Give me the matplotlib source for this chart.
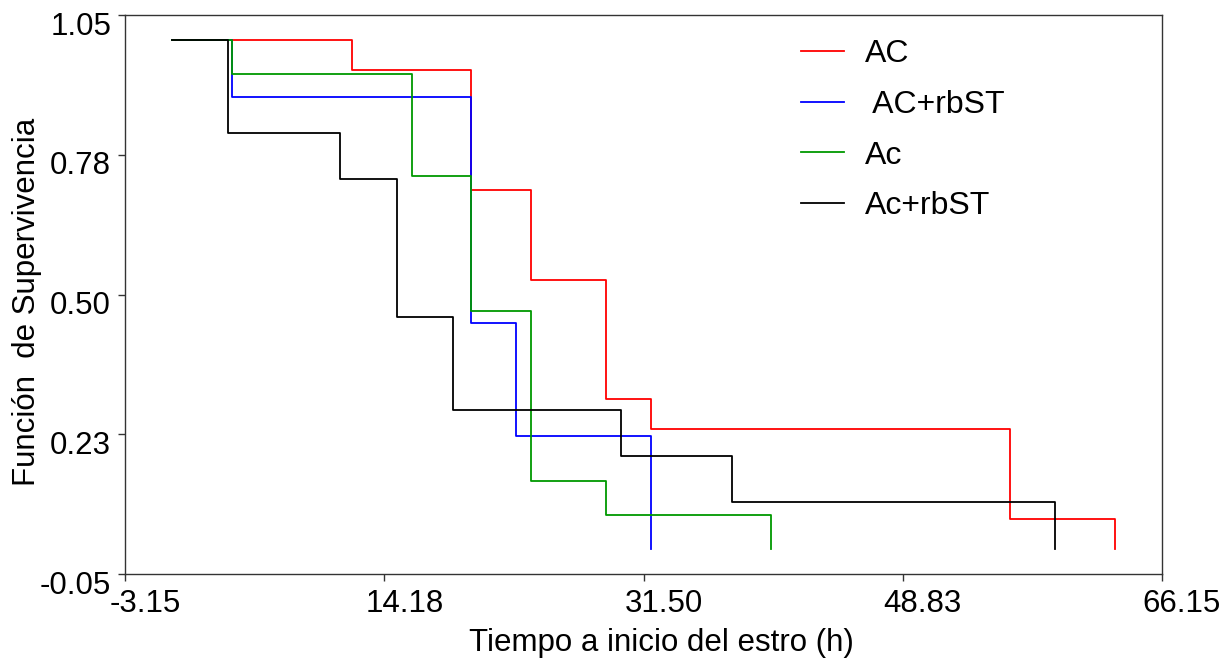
import numpy as np
import matplotlib
matplotlib.use('Agg')
import matplotlib.pyplot as plt
from matplotlib.transforms import ScaledTranslation

plt.rcParams['font.family'] = ['Liberation Sans', 'DejaVu Sans']

# Kaplan-Meier curves (time in h, survival)
t_AC = [0, 12, 20, 24, 29, 32, 56, 63]
s_AC = [1.0, 0.941, 0.706, 0.529, 0.294, 0.235, 0.059, 0.0]

t_ACrb = [0, 4, 20, 23, 32]
s_ACrb = [1.0, 0.889, 0.444, 0.222, 0.0]

t_Ac = [0, 4, 16, 20, 24, 29, 40]
s_Ac = [1.0, 0.933, 0.733, 0.467, 0.133, 0.067, 0.0]

t_Acrb = [0, 3.7, 11.2, 15, 18.8, 30, 37.4, 59]
s_Acrb = [1.0, 0.818, 0.727, 0.455, 0.273, 0.182, 0.091, 0.0]

labels = ['AC', ' AC+rbST', 'Ac', 'Ac+rbST']
colors = ['#ff0000', '#0000ff', '#009900', '#000000']

# ticks are evenly spaced, labels rounded to 2 decimals
xticks = np.linspace(-3.15, 66.15, 5)
yticks = np.linspace(-0.05, 1.05, 5)

fig = plt.figure(figsize=(12.23, 6.6), dpi=100)
ax = fig.add_axes([125/1223, 1-574/660, 1037/1223, 559/660])

curves = [(t_AC, s_AC), (t_ACrb, s_ACrb), (t_Ac, s_Ac), (t_Acrb, s_Acrb)]
for (t, s), lab, c in zip(curves, labels, colors):
    ax.step(t, s, where='post', color=c, lw=1.3, label=lab)

ax.set_xlim(-3.15, 66.15)
ax.set_ylim(-0.05, 1.05)
ax.set_xticks(xticks)
ax.set_yticks(yticks)
ax.set_xticklabels(['%.2f' % (v + 1e-9) for v in xticks])
ax.set_yticklabels(['%.2f' % (v + 1e-9) for v in yticks])
ax.tick_params(labelsize=22.5, length=5, width=1, direction='out', color='#333333')
ax.tick_params(axis='x', pad=6)
ax.tick_params(axis='y', pad=5)
for sp in ax.spines.values():
    sp.set_color('#333333')
    sp.set_linewidth(1)

# the original's texts sit a bit off their ticks (right on x, lower on y)
dx = ScaledTranslation(0.20, 0, fig.dpi_scale_trans)
dy = ScaledTranslation(0, -0.08, fig.dpi_scale_trans)
for tk in ax.xaxis.get_major_ticks():
    tk.label1.set_transform(tk.label1.get_transform() + dx)
for tk in ax.yaxis.get_major_ticks():
    tk.label1.set_transform(tk.label1.get_transform() + dy)

ax.set_xlabel('Tiempo a inicio del estro (h)', fontsize=22.5)
ax.set_ylabel('Función  de Supervivencia', fontsize=22.5)
ax.xaxis.set_label_coords(0.517, -0.097)
ax.yaxis.set_label_coords(-0.080, 0.487)

ax.legend(loc='upper left', bbox_to_anchor=(0.652, 0.957), frameon=False,
          fontsize=23, handlelength=1.35, handletextpad=0.65,
          labelspacing=0.65, borderpad=0, borderaxespad=0)

fig.savefig('out.png', dpi=100)
